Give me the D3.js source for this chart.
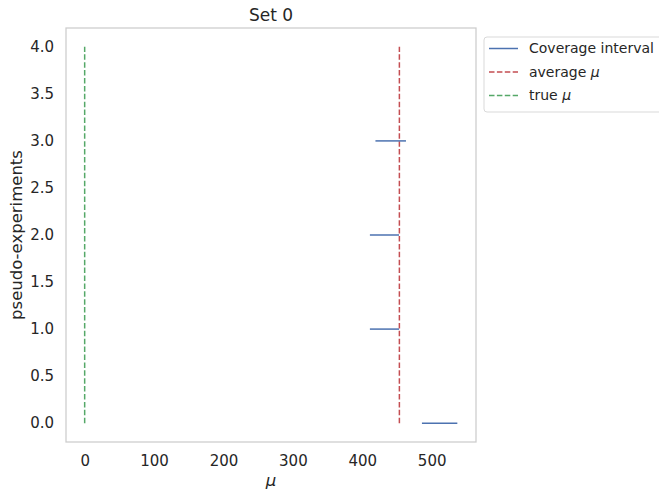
<!DOCTYPE html>
<html>
<head>
<meta charset="utf-8">
<script src="https://cdn.jsdelivr.net/npm/d3@7"></script>
<style>
  body { margin: 0; background: #fff; }
  text { font-family: "DejaVu Sans", sans-serif; fill: #262626; }
</style>
</head>
<body>
<svg width="659" height="493"></svg>
<script>
// pseudo-experiment index and coverage interval bounds
var experiments = [0, 1, 2, 3];
var lowerBounds = [486, 411, 411, 419];
var upperBounds = [537, 453, 453, 463];
var averageMu = 453.5;
var trueMu = 0;
var xTicks = [0, 100, 200, 300, 400, 500];
var yTicks = [0, 0.5, 1, 1.5, 2, 2.5, 3, 3.5, 4];
var legendLabels = ['Coverage interval', 'average ', 'true '];
var legendSymbols = ['', '\u03bc', '\u03bc'];

var blue = '#4c72b0', red = '#c44e52', green = '#55a868';

var svg = d3.select('svg');
var plotLeft = 66, plotRight = 476, plotTop = 28, plotBottom = 442;

var x = d3.scaleLinear().domain([-26.9, 563.9]).range([plotLeft, plotRight]);
var y = d3.scaleLinear().domain([-0.2, 4.2]).range([plotBottom, plotTop]);

// frame
svg.append('rect')
  .attr('x', plotLeft).attr('y', plotTop)
  .attr('width', plotRight - plotLeft).attr('height', plotBottom - plotTop)
  .attr('fill', 'none').attr('stroke', '#cccccc').attr('stroke-width', 1.25);

// axes (labels only, no tick marks)
var xAxis = svg.append('g')
  .attr('transform', 'translate(0,' + plotBottom + ')')
  .call(d3.axisBottom(x).tickValues(xTicks).tickSize(0).tickPadding(13));
var yAxis = svg.append('g')
  .attr('transform', 'translate(' + plotLeft + ',0)')
  .call(d3.axisLeft(y).tickValues(yTicks).tickSize(0).tickPadding(12)
    .tickFormat(d3.format('.1f')));
[xAxis, yAxis].forEach(function(a) {
  a.select('.domain').remove();
  a.selectAll('text').style('font-size', '15px').attr('fill', '#262626')
    .style('font-family', '"DejaVu Sans", sans-serif');
});

// true and average mu lines
svg.append('line')
  .attr('x1', x(trueMu)).attr('x2', x(trueMu))
  .attr('y1', y(0)).attr('y2', y(4))
  .attr('stroke', green).attr('stroke-width', 1.5).attr('stroke-dasharray', '5.5,2.4');
svg.append('line')
  .attr('x1', x(averageMu)).attr('x2', x(averageMu))
  .attr('y1', y(0)).attr('y2', y(4))
  .attr('stroke', red).attr('stroke-width', 1.5).attr('stroke-dasharray', '5.5,2.4');

// coverage intervals
svg.selectAll('.interval')
  .data(experiments)
  .enter()
  .append('line')
  .attr('class', 'interval')
  .attr('x1', function(d, i) { return x(lowerBounds[i]); })
  .attr('x2', function(d, i) { return x(upperBounds[i]); })
  .attr('y1', function(d) { return y(d); })
  .attr('y2', function(d) { return y(d); })
  .attr('stroke', blue).attr('stroke-width', 1.5);

// titles
svg.append('text')
  .attr('x', (plotLeft + plotRight) / 2).attr('y', 21)
  .attr('text-anchor', 'middle')
  .style('font-size', '17px')
  .text('Set 0');
svg.append('text')
  .attr('x', (plotLeft + plotRight) / 2).attr('y', 486)
  .attr('text-anchor', 'middle')
  .style('font-size', '16.5px').style('font-style', 'italic')
  .text('\u03bc');
svg.append('text')
  .attr('transform', 'translate(22,' + ((plotTop + plotBottom) / 2) + ') rotate(-90)')
  .attr('text-anchor', 'middle')
  .style('font-size', '16.5px')
  .text('pseudo-experiments');

// legend
var legend = svg.append('g').attr('transform', 'translate(484,37)');
legend.append('rect')
  .attr('width', 190).attr('height', 75).attr('rx', 3)
  .attr('fill', '#fff').attr('stroke', '#d9d9d9');
var legendColors = [blue, red, green];
var legendDash = [null, '5.5,2.4', '5.5,2.4'];
var rows = legend.selectAll('.row')
  .data(legendLabels)
  .enter()
  .append('g')
  .attr('transform', function(d, i) { return 'translate(0,' + (11.5 + i * 23.5) + ')'; });
rows.append('line')
  .attr('x1', 5).attr('x2', 34)
  .attr('stroke', function(d, i) { return legendColors[i]; })
  .attr('stroke-width', 1.5)
  .attr('stroke-dasharray', function(d, i) { return legendDash[i]; });
var rowText = rows.append('text')
  .attr('x', 45).attr('dy', '0.35em')
  .style('font-size', '14px');
rowText.append('tspan').attr('xml:space', 'preserve').text(function(d) { return d; });
rowText.append('tspan').style('font-style', 'italic')
  .text(function(d, i) { return legendSymbols[i]; });
</script>
</body>
</html>
